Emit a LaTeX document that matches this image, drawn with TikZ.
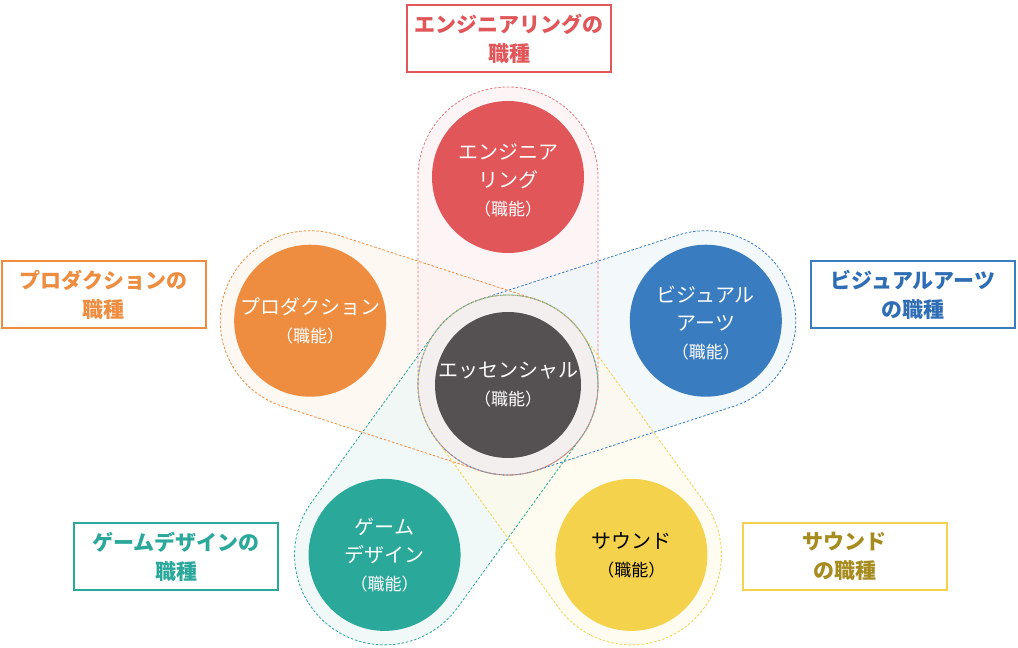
\documentclass[tikz,border=0pt]{standalone}
\usepackage{fontspec}
\newfontfamily\jp{Noto Sans CJK JP}
\usetikzlibrary{calc}
\definecolor{cred}{HTML}{E05659}
\definecolor{cora}{HTML}{EE8D40}
\definecolor{cblu}{HTML}{3A7CC0}
\definecolor{cblt}{HTML}{2F6EB5}
\definecolor{ctea}{HTML}{2AA89A}
\definecolor{cyel}{HTML}{F4D24B}
\definecolor{cyet}{HTML}{A68B1E}
\definecolor{cdrk}{HTML}{555052}
\definecolor{cring}{HTML}{F2EFEE}
\newcommand\petalshape[4]{%
  \path[fill=#3, fill opacity=.75] ($(C)+(#2+90:90pt)$) -- ($(#1)+(#2+90:90pt)$)
    arc[start angle=#2+90, end angle=#2-90, radius=90pt] -- ($(C)+(#2-90:90pt)$)
    arc[start angle=#2-90, end angle=#2-270, radius=90pt] -- cycle;}
\newcommand\petalline[3]{%
  \draw[petline, draw=#3] ($(C)+(#2+90:90pt)$) -- ($(#1)+(#2+90:90pt)$)
    arc[start angle=#2+90, end angle=#2-90, radius=90pt] -- ($(C)+(#2-90:90pt)$)
    arc[start angle=#2-90, end angle=#2-270, radius=90pt] -- cycle;}
\newcommand\shokuno{{\fontsize{17}{28}\selectfont（職能）}}
\begin{document}
\begin{tikzpicture}[x=1pt,y=1pt,
  petline/.style={line width=0.8pt, dash pattern=on 2.5pt off 1.8pt},
  role/.style={circle, minimum size=152pt, inner sep=0pt, align=center, text=white,
    font=\jp\fontsize{20}{28}\selectfont},
  lab/.style={draw, line width=2pt, minimum width=204pt, minimum height=67pt, inner sep=0pt,
    fill=white, align=center, font=\jp\bfseries\fontsize{21}{29}\selectfont}]
\useasboundingbox (0,0) rectangle (1018,648);
\coordinate (C) at (508,263);
\coordinate (eng) at ($(C)+(90:208pt)$);
\coordinate (vis) at ($(C)+(18:208pt)$);
\coordinate (pro) at ($(C)+(162:208pt)$);
\coordinate (gam) at ($(C)+(234:210pt)$);
\coordinate (snd) at ($(C)+(306:210pt)$);
% petal fills
\petalshape{pro}{162}{cora!9}{}
\petalshape{eng}{90}{cred!8}{}
\petalshape{vis}{18}{cblu!8}{}
\petalshape{gam}{234}{ctea!9}{}
\petalshape{snd}{306}{cyel!11}{}
% center ring
\fill[cring] (C) circle[radius=90pt];
% petal outlines
\petalline{pro}{162}{cora}
\petalline{eng}{90}{cred!80}
\petalline{vis}{18}{cblu}
\petalline{gam}{234}{ctea}
\petalline{snd}{306}{cyel}
\draw[petline, draw=gray!70] (C) circle[radius=90pt];
% role circles
\node[role, fill=cred] (engc) at (eng) {};
\node[role, fill=cblu] (visc) at (vis) {};
\node[role, fill=cora] (proc) at (pro) {};
\node[role, fill=ctea] (gamc) at (gam) {};
\node[role, fill=cyel] (sndc) at (snd) {};
\node[role, fill=cdrk, minimum size=146pt] (cen) at (C) {};
% role texts
\node[role, minimum size=0pt] (engt) at ([yshift=-3pt]engc.center) {エンジニア\\リング\\\shokuno};
\node[role, minimum size=0pt] (vist) at ([yshift=-2pt]visc.center) {ビジュアル\\アーツ\\\shokuno};
\node[role, minimum size=0pt] (prot) at (proc.center) {プロダクション\\\shokuno};
\node[role, minimum size=0pt] (gamt) at (gamc.center) {ゲーム\\デザイン\\\shokuno};
\node[role, minimum size=0pt, text=black] (sndt) at (sndc.center) {サウンド\\\shokuno};
\node[role, minimum size=0pt] (cent) at (cen.center) {エッセンシャル\\\shokuno};
% labels
\node[lab, draw=cred, text=cred] (engl) at (509,609) {エンジニアリングの\\職種};
\node[lab, draw=cora, text=cora] (prol) at (103.5,353) {プロダクションの\\職種};
\node[lab, draw=cblu, text=cblt] (visl) at (913,353) {ビジュアルアーツ\\の職種};
\node[lab, draw=ctea, text=ctea] (gaml) at (176,91.5) {ゲームデザインの\\職種};
\node[lab, draw=cyel, text=cyet] (sndl) at (844.5,91.5) {サウンド\\の職種};
\end{tikzpicture}
\end{document}
